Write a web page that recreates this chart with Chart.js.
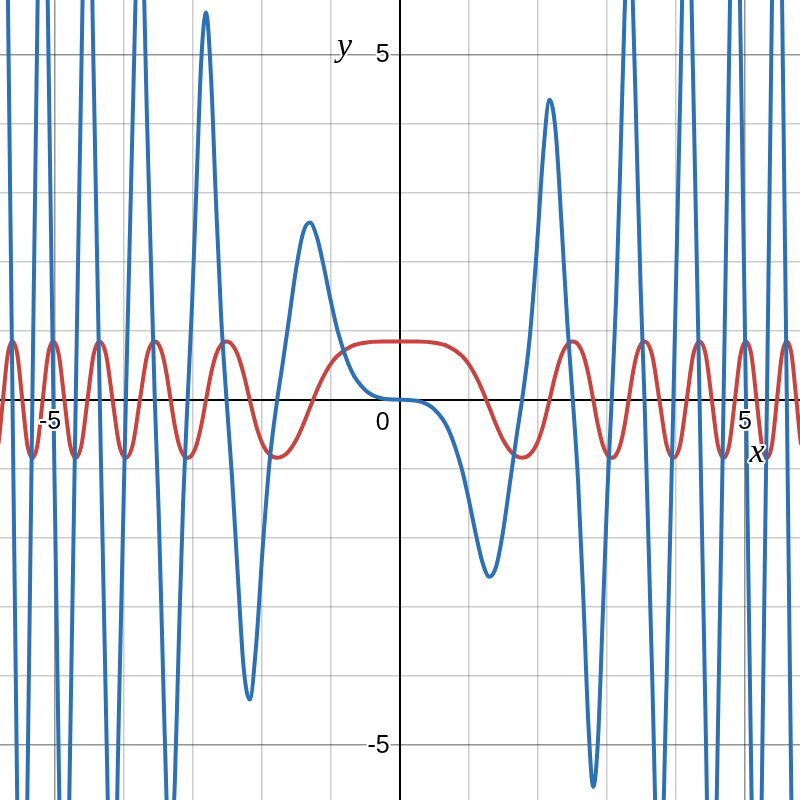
<!DOCTYPE html>
<html>
<head>
<meta charset="utf-8">
<title>Graph</title>
<script src="https://cdn.jsdelivr.net/npm/chart.js@4.4.1/dist/chart.umd.min.js"></script>
<style>
  html, body { margin: 0; padding: 0; background: #fff; }
  #graph { display: block; }
</style>
</head>
<body>
<canvas id="graph" width="800" height="800"></canvas>
<script>
"use strict";

// x positions (left edge to right edge)
const xValues = [
  -6.0107, -5.945, -5.8786, -5.8114, -5.7434, -5.6746, -5.605, -5.5345,
  -5.4631, -5.3907, -5.3174, -5.243, -5.1676, -5.091, -5.0133, -4.9343,
  -4.8541, -4.7725, -4.6895, -4.605, -4.5189, -4.4311, -4.3416, -4.2502,
  -4.1568, -4.0612, -3.9633, -3.863, -3.7599, -3.654,
  -3.5449, -3.4891, -3.4324, -3.3747, -3.316, -3.2562, -3.1954, -3.1333,
  -3.07, -3.0054, -2.9393, -2.8717, -2.8025, -2.7315, -2.6587, -2.5838,
  -2.5066, -2.427, -2.3447, -2.2594, -2.1708, -2.0784, -1.9817, -1.88,
  -1.7725, -1.7, -1.6, -1.5, -1.4, -1.3, -1.2, -1.1, -1.0, -0.9, -0.7, -0.5, -0.25,
  0,
  0.25, 0.5, 0.7, 0.9, 1.0, 1.1, 1.2, 1.3, 1.4, 1.5, 1.6, 1.7, 1.7725,
  1.88, 1.9817, 2.0784, 2.1708, 2.2594, 2.3447, 2.427, 2.5066,
  2.5838, 2.6587, 2.7315, 2.8025, 2.8717, 2.9393, 3.0054, 3.07,
  3.1333, 3.1954, 3.2562, 3.316, 3.3747, 3.4324, 3.4891, 3.5449,
  3.654, 3.7599, 3.863, 3.9633, 4.0612, 4.1568, 4.2502, 4.3416,
  4.4311, 4.5189, 4.605, 4.6895, 4.7725, 4.8541, 4.9343, 5.0133,
  5.091, 5.1676, 5.243, 5.3174, 5.3907, 5.4631, 5.5345, 5.605,
  5.6746, 5.7434, 5.8114, 5.8786, 5.945, 6.0107
];

// blue curve (odd, growing swings)
const blueValues = [
  -12.021, -6.391, 0, 6.247, 11.487, 6.100, 0, -5.950,
  -10.926, -5.795, 0, 5.636, 10.335, 5.473, 0, -5.304,
  -9.708, -5.130, 0, 4.950, 9.038, 4.763, 0, -4.569,
  -8.314, -4.366, 0, 4.153, 7.520, 3.928,
  0, -1.608, -3.690, -5.784, -6.632, -5.581, -3.435, -1.444,
  0, 1.385, 3.160, 4.922, 5.605, 4.682, 2.858, 1.191,
  0, -1.119, -2.521, -3.873, -4.342, -3.562, -2.130, -0.867,
  0, 0.480, 1.180, 1.888, 2.406, 2.563, 2.359, 1.933, 1.443, 1.006, 0.419, 0.140, 0.017,
  0,
  -0.017, -0.140, -0.419, -1.006, -1.443, -1.933, -2.359, -2.563, -2.406, -1.888, -1.180, -0.480, 0,
  0.867, 2.130, 3.562, 4.342, 3.873, 2.521, 1.119, 0,
  -1.191, -2.858, -4.682, -5.605, -4.922, -3.160, -1.385, 0,
  1.444, 3.435, 5.581, 6.632, 5.784, 3.690, 1.608, 0,
  -3.928, -7.520, -4.153, 0, 4.366, 8.314, 4.569, 0,
  -4.763, -9.038, -4.950, 0, 5.130, 9.708, 5.304, 0,
  -5.473, -10.335, -5.636, 0, 5.795, 10.926, 5.950, 0,
  -6.100, -11.487, -6.247, 0, 6.391, 12.021
];

// red curve (even, flat top around 0)
const redValues = [
  0, -0.650, -0.8415, -0.650, 0, 0.650, 0.8415, 0.650,
  0, -0.650, -0.8415, -0.650, 0, 0.650, 0.8415, 0.650,
  0, -0.650, -0.8415, -0.650, 0, 0.650, 0.8415, 0.650,
  0, -0.650, -0.8415, -0.650, 0, 0.650,
  0.8415, 0.7982, 0.650, 0.3734, 0, -0.3734, -0.650, -0.7982,
  -0.8415, -0.7982, -0.650, -0.3734, 0, 0.3734, 0.650, 0.7982,
  0.8415, 0.7982, 0.650, 0.3734, 0, -0.3734, -0.650, -0.7982,
  -0.8415, -0.8241, -0.7412, -0.5878, -0.3704, -0.1185, 0.1300, 0.3437, 0.5144, 0.6362, 0.7721, 0.8240, 0.8404,
  0.8415,
  0.8404, 0.8240, 0.7721, 0.6362, 0.5144, 0.3437, 0.1300, -0.1185, -0.3704, -0.5878, -0.7412, -0.8241, -0.8415,
  -0.7982, -0.650, -0.3734, 0, 0.3734, 0.650, 0.7982, 0.8415,
  0.7982, 0.650, 0.3734, 0, -0.3734, -0.650, -0.7982, -0.8415,
  -0.7982, -0.650, -0.3734, 0, 0.3734, 0.650, 0.7982, 0.8415,
  0.650, 0, -0.650, -0.8415, -0.650, 0, 0.650, 0.8415,
  0.650, 0, -0.650, -0.8415, -0.650, 0, 0.650, 0.8415,
  0.650, 0, -0.650, -0.8415, -0.650, 0, 0.650, 0.8415,
  0.650, 0, -0.650, -0.8415, -0.650, 0
];

const xTickLabels = [-5, 5];
const yTickLabels = [5, -5];
const originLabel = "0";
const xAxisTitle = "x";
const yAxisTitle = "y";

const BLUE = "#2d70b3";
const RED = "#c74440";

function toPoints(ys) {
  return xValues.map((x, i) => ({ x: x, y: ys[i] }));
}

// grid colour: axes black, every 5th line darker, the rest light
function gridColor(ctx) {
  const v = ctx.tick ? ctx.tick.value : null;
  if (v === 0) return "#000";
  if (v !== null && Math.abs(v) % 5 === 0) return "rgba(0,0,0,0.42)";
  return "rgba(0,0,0,0.2)";
}
function gridWidth(ctx) {
  const v = ctx.tick ? ctx.tick.value : null;
  return v === 0 ? 2 : 1.5;
}

// tick numbers and axis letters, drawn with a white halo like the original
const labelPlugin = {
  id: "axisLabels",
  afterDatasetsDraw(chart) {
    const ctx = chart.ctx;
    const xs = chart.scales.x;
    const ys = chart.scales.y;
    const x0 = xs.getPixelForValue(0);
    const y0 = ys.getPixelForValue(0);

    ctx.save();
    ctx.lineJoin = "round";
    ctx.strokeStyle = "#fff";
    ctx.fillStyle = "#000";
    ctx.lineWidth = 4;

    function put(text, px, py, align) {
      ctx.textAlign = align;
      ctx.strokeText(text, px, py);
      ctx.fillText(text, px, py);
    }

    ctx.font = '25px "Liberation Sans", Arial, sans-serif';
    ctx.textBaseline = "middle";
    const digitW = ctx.measureText("5").width;

    xTickLabels.forEach(v => {
      const px = xs.getPixelForValue(v);
      // keep the digits centred on the grid line, the minus hangs left
      put(String(v), px + digitW / 2, y0 + 22, "right");
    });
    yTickLabels.forEach(v => {
      put(String(v), x0 - 10, ys.getPixelForValue(v) + 1, "right");
    });
    put(originLabel, x0 - 10, y0 + 23, "right");

    ctx.font = 'italic 34px "Liberation Serif", "Times New Roman", serif';
    ctx.textBaseline = "alphabetic";
    put(yAxisTitle, x0 - 55, 56, "center");
    put(xAxisTitle, xs.getPixelForValue(5) + 12, y0 + 62, "center");
    ctx.restore();
  }
};

const chart = new Chart(document.getElementById("graph"), {
  type: "line",
  data: {
    datasets: [
      {
        label: "blue",
        data: toPoints(blueValues),
        borderColor: BLUE,
        borderWidth: 4,
        pointRadius: 0,
        fill: false,
        cubicInterpolationMode: "monotone"
      },
      {
        label: "red",
        data: toPoints(redValues),
        borderColor: RED,
        borderWidth: 4,
        pointRadius: 0,
        fill: false,
        cubicInterpolationMode: "monotone"
      }
    ]
  },
  options: {
    responsive: false,
    animation: false,
    layout: { padding: 0 },
    plugins: {
      legend: { display: false },
      tooltip: { enabled: false }
    },
    scales: {
      x: {
        type: "linear",
        min: -5.786,
        max: 5.796,
        border: { display: false },
        grid: { color: gridColor, lineWidth: gridWidth, drawTicks: false, tickLength: 0 },
        ticks: { display: false, stepSize: 1, includeBounds: false }
      },
      y: {
        type: "linear",
        min: -5.796,
        max: 5.786,
        border: { display: false },
        grid: { color: gridColor, lineWidth: gridWidth, drawTicks: false, tickLength: 0 },
        ticks: { display: false, stepSize: 1, includeBounds: false }
      }
    }
  },
  plugins: [labelPlugin]
});
</script>
</body>
</html>
